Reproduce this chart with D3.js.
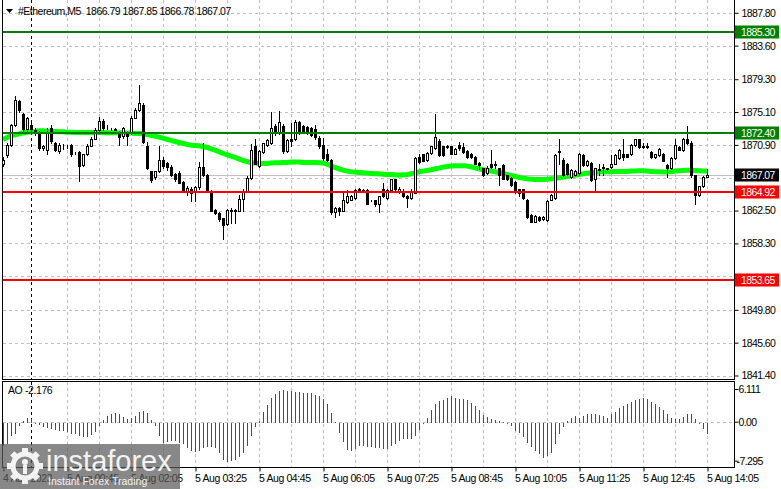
<!DOCTYPE html>
<html>
<head>
<meta charset="utf-8">
<title>#Ethereum,M5</title>
<script src="https://cdn.jsdelivr.net/npm/d3@7"></script>
<style>
    html, body { margin: 0; padding: 0; background: #fff; }
    svg { display: block; font-family: "Liberation Sans", Arial, sans-serif; }
</style>
</head>
<body>
<svg id="chart" width="781" height="489"></svg>
<script>
// M5 bars, first bar 4 Aug 23:25, last bar 5 Aug 14:05
const opens = [
    1868.4, 1869.6, 1870.9, 1873.4, 1876.5, 1874.8, 1872.9, 1873.5, 1872.8, 1872.45,
    1870.45, 1870.2, 1873.1, 1871.1, 1870.1, 1870.95, 1870.9, 1870.9, 1869.9, 1870.0,
    1868.3, 1869.7, 1870.8, 1871.7, 1872.8, 1874.0, 1873.2, 1872.9, 1872.9, 1872.6,
    1872.0, 1872.4, 1872.6, 1874.4, 1875.4, 1876.0, 1870.7, 1867.5, 1866.8, 1867.5,
    1869.0, 1868.6, 1868.1, 1867.2, 1867.25, 1866.2, 1864.9, 1865.3, 1864.9, 1865.5,
    1868.1, 1867.0, 1865.0, 1862.6, 1862.2, 1861.5, 1860.8, 1862.4, 1862.6, 1862.5,
    1864.0, 1865.0, 1866.7, 1870.7, 1868.2, 1870.0, 1870.9, 1871.1, 1873.3, 1872.45,
    1873.3, 1870.1, 1871.6, 1871.6, 1873.8, 1873.3, 1873.2, 1873.1, 1872.9, 1871.8,
    1870.9, 1869.8, 1869.0, 1862.3, 1862.8, 1862.5, 1863.6, 1863.9, 1864.05, 1865.2,
    1865.1, 1865.1, 1863.85, 1863.8, 1863.4, 1865.2, 1864.1, 1865.1, 1866.5, 1865.0,
    1865.0, 1864.4, 1864.05, 1864.8, 1869.3, 1869.7, 1869.0, 1869.9, 1870.5, 1871.4,
    1870.7, 1870.7, 1870.7, 1869.8, 1870.9, 1870.6, 1870.1, 1869.8, 1869.4, 1868.6,
    1867.9, 1867.3, 1868.5, 1868.4, 1867.9, 1868.3, 1867.0, 1866.7, 1866.2, 1865.2,
    1865.2, 1863.9, 1861.9, 1861.1, 1861.7, 1861.4, 1861.3, 1863.9, 1864.05, 1870.1,
    1869.0, 1868.5, 1866.8, 1867.0, 1867.25, 1869.6, 1868.3, 1868.6, 1866.6, 1867.8,
    1867.9, 1867.8, 1868.1, 1868.5, 1869.2, 1869.7, 1869.7, 1869.7, 1870.9, 1871.6,
    1870.75, 1870.75, 1870.0, 1869.3, 1869.6, 1869.8, 1868.3, 1867.9, 1869.2, 1870.6,
    1870.2, 1871.7, 1871.2, 1867.0, 1864.5, 1865.6, 1866.79
];
const highs = [
    1869.3, 1871.1, 1873.6, 1877.1, 1876.7, 1875.0, 1874.5, 1873.7, 1873.0, 1872.7,
    1870.9, 1873.0, 1873.4, 1871.3, 1871.1, 1871.0, 1870.95, 1871.0, 1870.0, 1870.1,
    1869.8, 1871.0, 1871.9, 1873.0, 1874.5, 1874.2, 1873.5, 1873.0, 1873.0, 1872.7,
    1873.2, 1872.7, 1874.6, 1875.6, 1878.5, 1876.3, 1871.3, 1867.6, 1867.6, 1870.7,
    1869.4, 1868.7, 1868.3, 1867.3, 1867.5, 1866.3, 1865.7, 1865.5, 1865.7, 1868.7,
    1871.1, 1867.2, 1865.1, 1862.7, 1862.3, 1861.6, 1862.7, 1862.8, 1862.7, 1864.5,
    1865.2, 1866.9, 1871.0, 1871.7, 1870.2, 1871.2, 1871.6, 1875.1, 1873.6, 1875.2,
    1873.6, 1871.7, 1873.7, 1874.1, 1874.0, 1873.4, 1873.3, 1873.2, 1873.4, 1872.0,
    1871.8, 1870.4, 1869.1, 1862.9, 1862.9, 1864.9, 1865.1, 1864.5, 1865.3, 1865.4,
    1865.3, 1865.2, 1863.9, 1863.9, 1864.4, 1866.0, 1865.2, 1866.6, 1866.6, 1865.5,
    1865.2, 1864.5, 1865.2, 1869.4, 1869.7, 1869.8, 1870.0, 1870.8, 1874.8, 1871.6,
    1870.8, 1870.9, 1870.8, 1870.5, 1871.3, 1871.1, 1870.2, 1869.9, 1869.5, 1868.7,
    1868.0, 1868.2, 1870.2, 1868.8, 1868.0, 1868.4, 1867.1, 1866.8, 1866.3, 1865.3,
    1865.3, 1864.0, 1862.0, 1861.9, 1861.8, 1861.8, 1863.8, 1864.6, 1869.7, 1871.7,
    1869.2, 1868.6, 1867.8, 1867.7, 1869.9, 1869.7, 1869.0, 1868.7, 1868.0, 1868.5,
    1868.5, 1868.0, 1869.6, 1869.7, 1870.4, 1871.7, 1869.8, 1871.0, 1871.7, 1871.7,
    1871.2, 1871.1, 1870.1, 1869.8, 1870.5, 1869.9, 1868.4, 1869.3, 1871.7, 1870.7,
    1871.8, 1873.3, 1871.4, 1867.1, 1865.7, 1866.9, 1867.85
];
const lows = [
    1868.2, 1869.4, 1870.8, 1873.3, 1875.1, 1872.7, 1872.6, 1872.4, 1872.2, 1870.2,
    1870.3, 1869.7, 1871.2, 1870.1, 1869.9, 1870.4, 1870.5, 1869.5, 1869.8, 1866.3,
    1868.2, 1869.6, 1870.7, 1871.6, 1872.7, 1872.8, 1872.9, 1872.8, 1872.8, 1870.9,
    1871.8, 1870.9, 1872.3, 1874.3, 1875.3, 1871.1, 1867.8, 1866.2, 1866.6, 1867.4,
    1868.0, 1867.7, 1866.9, 1866.3, 1866.0, 1865.0, 1864.5, 1863.7, 1863.7, 1865.3,
    1866.9, 1864.9, 1862.4, 1862.1, 1861.2, 1858.9, 1860.6, 1860.9, 1860.9, 1862.4,
    1862.4, 1864.9, 1866.5, 1868.4, 1868.1, 1869.9, 1870.8, 1871.0, 1872.2, 1872.3,
    1869.9, 1870.0, 1870.8, 1871.5, 1872.3, 1872.5, 1872.3, 1872.0, 1871.7, 1870.5,
    1869.0, 1868.8, 1862.0, 1861.7, 1861.9, 1862.4, 1863.5, 1863.8, 1864.0, 1864.9,
    1865.0, 1863.3, 1863.7, 1863.1, 1862.3, 1864.2, 1864.0, 1865.0, 1865.1, 1864.7,
    1864.2, 1863.0, 1864.0, 1864.7, 1868.6, 1868.8, 1868.9, 1869.8, 1870.4, 1869.5,
    1869.5, 1870.5, 1869.7, 1869.7, 1870.3, 1869.9, 1869.2, 1869.2, 1868.4, 1867.8,
    1866.9, 1867.2, 1868.0, 1868.0, 1865.8, 1866.5, 1866.4, 1865.7, 1864.8, 1864.3,
    1864.0, 1861.6, 1861.0, 1861.0, 1861.2, 1861.3, 1861.2, 1863.8, 1864.0, 1868.5,
    1866.9, 1867.1, 1866.7, 1866.9, 1867.1, 1868.2, 1868.2, 1866.3, 1865.1, 1867.0,
    1867.0, 1867.7, 1868.0, 1868.4, 1869.1, 1869.0, 1869.3, 1869.6, 1870.8, 1870.5,
    1870.5, 1870.5, 1869.2, 1869.2, 1869.5, 1868.8, 1866.8, 1867.8, 1869.1, 1870.2,
    1870.1, 1871.0, 1866.8, 1863.4, 1864.4, 1865.5, 1866.78
];
const closes = [
    1869.0, 1870.9, 1873.4, 1876.6, 1875.35, 1872.9, 1874.3, 1872.9, 1872.5, 1870.45,
    1870.75, 1872.6, 1871.4, 1870.3, 1870.9, 1870.9, 1870.9, 1869.7, 1869.9, 1868.2,
    1869.7, 1870.8, 1871.6, 1872.8, 1874.0, 1873.0, 1873.2, 1872.9, 1872.85, 1871.9,
    1873.1, 1872.1, 1874.4, 1875.4, 1876.3, 1871.3, 1867.9, 1866.4, 1867.5, 1869.0,
    1868.2, 1868.1, 1867.0, 1866.6, 1866.05, 1865.1, 1865.4, 1864.8, 1865.5, 1868.1,
    1867.0, 1865.0, 1862.5, 1862.2, 1861.4, 1860.6, 1862.6, 1862.6, 1862.5, 1864.0,
    1865.0, 1866.7, 1870.3, 1868.5, 1870.1, 1871.1, 1871.5, 1873.0, 1872.4, 1873.8,
    1870.1, 1871.5, 1871.4, 1873.8, 1872.5, 1872.7, 1872.45, 1872.2, 1871.9, 1870.7,
    1869.2, 1869.0, 1862.3, 1862.8, 1862.4, 1863.8, 1864.3, 1864.35, 1865.1, 1865.05,
    1865.05, 1863.4, 1863.8, 1863.3, 1864.3, 1864.3, 1865.1, 1866.5, 1865.3, 1865.3,
    1864.35, 1864.05, 1865.05, 1869.2, 1868.7, 1868.9, 1869.9, 1870.7, 1871.9, 1869.6,
    1869.6, 1870.6, 1869.8, 1870.4, 1870.45, 1870.0, 1869.3, 1869.3, 1868.5, 1868.3,
    1867.0, 1868.0, 1868.1, 1868.35, 1867.0, 1866.6, 1866.5, 1865.8, 1864.9, 1864.7,
    1864.05, 1861.7, 1861.1, 1861.8, 1861.3, 1861.7, 1863.7, 1864.5, 1869.6, 1870.0,
    1867.0, 1867.2, 1867.7, 1867.6, 1869.8, 1868.3, 1868.9, 1866.4, 1867.9, 1867.75,
    1868.1, 1867.9, 1868.5, 1869.6, 1870.3, 1869.4, 1869.4, 1870.9, 1871.6, 1870.6,
    1870.6, 1870.6, 1869.3, 1869.7, 1870.4, 1868.9, 1867.9, 1869.2, 1870.9, 1870.3,
    1871.7, 1871.1, 1867.0, 1864.5, 1865.6, 1866.8, 1867.07
];

// moving average
const maValues = [
    1871.60, 1871.85, 1872.07, 1872.19, 1872.32, 1872.45, 1872.53, 1872.58, 1872.62, 1872.70,
    1872.70, 1872.66, 1872.66, 1872.62, 1872.58, 1872.58, 1872.53, 1872.53, 1872.49, 1872.49,
    1872.49, 1872.49, 1872.49, 1872.49, 1872.49, 1872.49, 1872.45, 1872.45, 1872.45, 1872.45,
    1872.41, 1872.41, 1872.41, 1872.36, 1872.36, 1872.32, 1872.24, 1872.11, 1872.02, 1871.89,
    1871.77, 1871.60, 1871.47, 1871.34, 1871.21, 1871.08, 1870.96, 1870.87, 1870.83, 1870.79,
    1870.70, 1870.57, 1870.40, 1870.23, 1870.02, 1869.81, 1869.63, 1869.46, 1869.29, 1869.12,
    1868.91, 1868.78, 1868.65, 1868.57, 1868.53, 1868.53, 1868.53, 1868.57, 1868.61, 1868.61,
    1868.65, 1868.65, 1868.70, 1868.70, 1868.70, 1868.65, 1868.65, 1868.65, 1868.65, 1868.61,
    1868.57, 1868.44, 1868.23, 1868.01, 1867.84, 1867.67, 1867.55, 1867.46, 1867.42, 1867.38,
    1867.33, 1867.29, 1867.25, 1867.20, 1867.20, 1867.16, 1867.12, 1867.12, 1867.08, 1867.03,
    1867.08, 1867.12, 1867.20, 1867.33, 1867.46, 1867.55, 1867.63, 1867.72, 1867.84, 1867.93,
    1868.06, 1868.14, 1868.19, 1868.23, 1868.23, 1868.23, 1868.19, 1868.10, 1867.97, 1867.84,
    1867.72, 1867.63, 1867.55, 1867.46, 1867.38, 1867.25, 1867.12, 1866.99, 1866.86, 1866.74,
    1866.65, 1866.57, 1866.52, 1866.48, 1866.48, 1866.48, 1866.52, 1866.57, 1866.61, 1866.69,
    1866.78, 1866.86, 1866.95, 1867.03, 1867.12, 1867.20, 1867.29, 1867.33, 1867.38, 1867.42,
    1867.46, 1867.46, 1867.46, 1867.50, 1867.50, 1867.50, 1867.50, 1867.55, 1867.55, 1867.59,
    1867.59, 1867.55, 1867.50, 1867.46, 1867.46, 1867.42, 1867.42, 1867.46, 1867.55, 1867.59,
    1867.63, 1867.67, 1867.67, 1867.63, 1867.59, 1867.55, 1867.55
];

// Awesome Oscillator histogram
const aoValues = [
    -4.36, -4.05, -2.49, -2.18, -0.62, 0.31, 0.93, 0.75, -0.19, -0.44,
    -0.81, -1.06, -1.25, -1.43, -1.56, -1.60, -1.74, -2.06, -2.18, -2.49,
    -2.68, -2.62, -2.31, -1.68, -0.62, 0.44, 1.25, 1.68, 1.87, 1.56,
    1.06, 0.62, 0.93, 1.25, 2.06, 2.18, 1.81, 0.44, -0.62, -2.49,
    -3.74, -3.55, -3.50, -3.43, -3.74, -4.05, -4.80, -5.30, -5.42, -5.30,
    -4.67, -4.55, -4.50, -4.80, -5.61, -6.90, -7.295, -7.10, -6.90, -6.50,
    -5.60, -4.36, -2.49, -0.81, 0.31, 2.06, 3.30, 4.67, 5.42, 5.90,
    6.111, 6.00, 5.85, 5.75, 5.65, 5.55, 5.60, 5.50, 5.20, 5.00,
    4.36, 3.55, 1.87, 0.19, -1.87, -3.55, -5.17, -5.30, -4.98, -4.36,
    -4.40, -4.50, -4.55, -4.65, -4.75, -4.85, -4.95, -4.36, -3.93, -3.43,
    -3.12, -2.99, -3.12, -2.49, -1.43, -0.19, 0.93, 2.31, 3.55, 4.05,
    4.17, 4.67, 4.98, 4.55, 4.50, 4.45, 4.17, 3.74, 3.12, 2.31,
    1.43, 1.06, 0.75, 0.44, 0.31, 0.05, -0.19, -0.62, -1.56, -1.87,
    -2.68, -3.74, -4.55, -5.30, -5.92, -6.54, -6.23, -5.61, -3.93, -2.18,
    -0.81, 0.31, 0.93, 1.25, 0.93, 1.25, 1.56, 1.68, 1.56, 1.43,
    1.25, 0.93, 1.56, 2.06, 2.68, 3.12, 3.55, 3.93, 4.17, 4.36,
    4.55, 4.36, 3.93, 3.43, 2.93, 2.31, 1.56, 0.93, 0.62, 0.68,
    1.06, 1.56, 1.60, 0.62, -0.31, -1.25, -2.176
];

const priceTicks = [1887.80, 1883.60, 1879.30, 1875.10, 1870.90, 1866.70, 1862.50, 1858.30, 1854.10, 1849.80, 1845.60, 1841.40];
const aoTicks = [6.111, 0, -7.295];
const levelPrices = [1885.30, 1872.40, 1864.92, 1853.65];
const timeTickBars = [0, 16, 32, 48, 64, 80, 96, 112, 128, 144, 160, 176];
const timeTickLabels = ["4 Aug 2023", "5 Aug 00:45", "5 Aug 02:05", "5 Aug 03:25", "5 Aug 04:45", "5 Aug 06:05",
    "5 Aug 07:25", "5 Aug 08:45", "5 Aug 10:05", "5 Aug 11:25", "5 Aug 12:45", "5 Aug 14:05"];
const daySeparatorBar = 7; // 5 Aug 00:00
const symbolName = "#Ethereum,M5";

document.addEventListener("DOMContentLoaded", function () {
    drawChart();
});

function drawChart() {
    const svg = d3.select("#chart");
    const last = closes.length - 1;

    const left = 2.5, right = 734.5;
    const mainBottom = 379.5, aoTop = 381.5, aoBottom = 467.5;

    const x = d3.scaleLinear().domain([0, last]).range([3, 707]);
    const y = d3.scaleLinear().domain([1841.40, 1887.80]).range([375.5, 12.8]);
    const yAo = d3.scaleLinear().domain([-7.295, 6.111]).range([460.7, 389]);
    const px = v => Math.round(v) + 0.5;

    // grid
    const grid = svg.append("g")
        .attr("stroke", "#c0c0c0")
        .attr("stroke-dasharray", "3,3")
        .attr("shape-rendering", "crispEdges");

    grid.selectAll(".hgrid")
        .data(priceTicks)
        .enter()
        .append("line")
        .attr("x1", left).attr("x2", right)
        .attr("y1", d => px(y(d))).attr("y2", d => px(y(d)));

    const gridBars = d3.range(16, closes.length, 8);
    [[0, mainBottom], [aoTop, aoBottom]].forEach(([y1, y2]) => {
        grid.append("g").selectAll("line")
            .data(gridBars)
            .enter()
            .append("line")
            .attr("x1", d => px(x(d))).attr("x2", d => px(x(d)))
            .attr("y1", y1).attr("y2", y2);
    });

    grid.append("line")
        .attr("x1", left).attr("x2", right)
        .attr("y1", px(yAo(0))).attr("y2", px(yAo(0)));

    // day separator
    [[0, mainBottom], [aoTop, aoBottom]].forEach(([y1, y2]) => {
        svg.append("line")
            .attr("x1", px(x(daySeparatorBar))).attr("x2", px(x(daySeparatorBar)))
            .attr("y1", y1).attr("y2", y2)
            .attr("stroke", "#000")
            .attr("stroke-dasharray", "3,3")
            .attr("shape-rendering", "crispEdges");
    });

    // current price line
    svg.append("line")
        .attr("x1", left).attr("x2", right)
        .attr("y1", px(y(closes[last]))).attr("y2", px(y(closes[last])))
        .attr("stroke", "#c0c0c0")
        .attr("shape-rendering", "crispEdges");

    // moving average
    const line = d3.line()
        .x((d, i) => x(i))
        .y(d => y(d));

    svg.append("path")
        .datum(maValues)
        .attr("fill", "none")
        .attr("stroke", "#00ff00")
        .attr("stroke-width", 5)
        .attr("stroke-linejoin", "round")
        .attr("d", line);

    // candles
    const candles = closes.map((c, i) => ({ i: i, o: opens[i], h: highs[i], l: lows[i], c: c }));
    const cg = svg.append("g").attr("shape-rendering", "crispEdges");

    cg.selectAll(".wick")
        .data(candles)
        .enter()
        .append("line")
        .attr("x1", d => x(d.i) + 0.5).attr("x2", d => x(d.i) + 0.5)
        .attr("y1", d => Math.round(y(d.h))).attr("y2", d => Math.round(y(d.l)) + 1)
        .attr("stroke", "#000");

    cg.selectAll(".body")
        .data(candles)
        .enter()
        .append("rect")
        .attr("x", d => x(d.i) - 0.5)
        .attr("y", d => Math.round(y(Math.max(d.o, d.c))) + 0.5)
        .attr("width", 2)
        .attr("height", d => Math.max(0, Math.round(y(Math.min(d.o, d.c))) - Math.round(y(Math.max(d.o, d.c)))))
        .attr("fill", d => d.c >= d.o ? "#fff" : "#000")
        .attr("stroke", "#000");

    // horizontal levels
    const levelColor = p => p > closes[last] ? "#008000" : "#ff0000";
    svg.selectAll(".level")
        .data(levelPrices)
        .enter()
        .append("line")
        .attr("x1", left).attr("x2", right)
        .attr("y1", d => Math.round(y(d))).attr("y2", d => Math.round(y(d)))
        .attr("stroke", levelColor)
        .attr("stroke-width", 2)
        .attr("shape-rendering", "crispEdges");

    // AO histogram
    svg.append("g")
        .attr("shape-rendering", "crispEdges")
        .selectAll("line")
        .data(aoValues)
        .enter()
        .append("line")
        .attr("x1", (d, i) => x(i) + 0.5).attr("x2", (d, i) => x(i) + 0.5)
        .attr("y1", px(yAo(0)))
        .attr("y2", d => Math.round(yAo(d)) + 0.5)
        .attr("stroke", (d, i) => i > 0 && d > aoValues[i - 1] ? "#008000" : "#ff0000");

    // frames
    const frame = svg.append("g")
        .attr("stroke", "#000")
        .attr("fill", "none")
        .attr("shape-rendering", "crispEdges");
    frame.append("path").attr("d", `M${left},0V${mainBottom}H${right}V0`);
    frame.append("rect").attr("x", left).attr("y", aoTop).attr("width", right - left).attr("height", aoBottom - aoTop);

    // price labels on the axis (tags hide the tick labels they cover)
    const tags = levelPrices.map(p => ({ p: p, bg: levelColor(p) }));
    tags.push({ p: closes[last], bg: "#000" });
    const covered = d => tags.some(t => Math.abs(y(t.p) - y(d)) < 9);

    const priceAxis = svg.append("g")
        .attr("transform", `translate(${right},0)`)
        .call(d3.axisRight(y).tickValues(priceTicks).tickSize(4).tickFormat(d => covered(d) ? "" : d.toFixed(2)));
    priceAxis.select(".domain").remove();
    priceAxis.selectAll("text")
        .attr("font-family", "Liberation Sans, Arial, sans-serif")
        .attr("font-size", 10.5)
        .attr("letter-spacing", "-0.6px")
        .attr("fill", "#000");

    const aoAxis = svg.append("g")
        .attr("transform", `translate(${right},0)`)
        .call(d3.axisRight(yAo).tickValues(aoTicks).tickSize(4).tickFormat(d => d === 0 ? "0.00" : d.toFixed(3)));
    aoAxis.select(".domain").remove();
    aoAxis.selectAll("text")
        .attr("x", d => d < 0 ? 2 : 4)
        .attr("font-family", "Liberation Sans, Arial, sans-serif")
        .attr("font-size", 10.5)
        .attr("letter-spacing", "-0.6px")
        .attr("fill", "#000");

    const tag = svg.selectAll(".tag")
        .data(tags)
        .enter()
        .append("g")
        .attr("transform", d => `translate(735,${Math.round(y(d.p))})`);
    tag.append("rect")
        .attr("x", 0).attr("y", -6.5)
        .attr("width", 44).attr("height", 13)
        .attr("fill", d => d.bg);
    tag.append("text")
        .attr("x", 6).attr("y", 4)
        .attr("font-size", 10.5)
        .attr("letter-spacing", "-0.6px")
        .attr("fill", "#fff")
        .text(d => d.p.toFixed(2));

    // time axis
    const timeAxis = svg.append("g")
        .attr("transform", `translate(0.5,${aoBottom})`)
        .call(d3.axisBottom(x).tickValues(timeTickBars).tickSize(4).tickFormat((d, i) => timeTickLabels[i]));
    timeAxis.select(".domain").remove();
    timeAxis.selectAll("text")
        .attr("text-anchor", "start")
        .attr("x", -1)
        .attr("font-family", "Liberation Sans, Arial, sans-serif")
        .attr("font-size", 10.5)
        .attr("letter-spacing", "-0.4px")
        .attr("fill", "#000");

    // header
    svg.append("path")
        .attr("d", "M6,9L13,9L9.5,13Z")
        .attr("fill", "#000");
    const ohlc = [opens[last], highs[last], lows[last], closes[last]].map(v => v.toFixed(2)).join(" ");
    svg.append("text")
        .attr("x", 18).attr("y", 15)
        .attr("font-size", 10.5)
        .attr("letter-spacing", "-0.5px")
        .style("white-space", "pre")
        .text(`${symbolName}  ${ohlc}`);

    svg.append("text")
        .attr("x", 8).attr("y", 394)
        .attr("font-size", 10.5)
        .attr("letter-spacing", "-0.4px")
        .text(`AO ${aoValues[last].toFixed(3)}`);

    drawLogo(svg);
}

// instaforex watermark
function drawLogo(svg) {
    const logo = svg.append("g");
    logo.append("rect")
        .attr("x", 0).attr("y", 444)
        .attr("width", 180).attr("height", 45)
        .attr("fill", "#5a5a5a")
        .attr("opacity", 0.72);

    const gear = logo.append("g")
        .attr("transform", "translate(25,466)")
        .attr("fill", "#fff")
        .attr("opacity", 0.9);
    gear.selectAll("rect")
        .data(d3.range(8))
        .enter()
        .append("rect")
        .attr("x", -3).attr("y", -18)
        .attr("width", 6).attr("height", 8)
        .attr("transform", d => `rotate(${d * 45})`);
    gear.append("circle")
        .attr("r", 12)
        .attr("fill", "none")
        .attr("stroke", "#fff")
        .attr("stroke-width", 5);
    gear.append("circle").attr("cy", -4).attr("r", 3);
    gear.append("rect").attr("x", -2).attr("y", -1).attr("width", 4).attr("height", 9);

    logo.append("text")
        .attr("x", 46).attr("y", 471)
        .attr("font-size", 29)
        .attr("fill", "#fff")
        .attr("opacity", 0.9)
        .text("instaforex");
    logo.append("text")
        .attr("x", 48).attr("y", 485)
        .attr("font-size", 10.5)
        .attr("fill", "#fff")
        .attr("opacity", 0.9)
        .text("Instant Forex Trading");
}
</script>
</body>
</html>
